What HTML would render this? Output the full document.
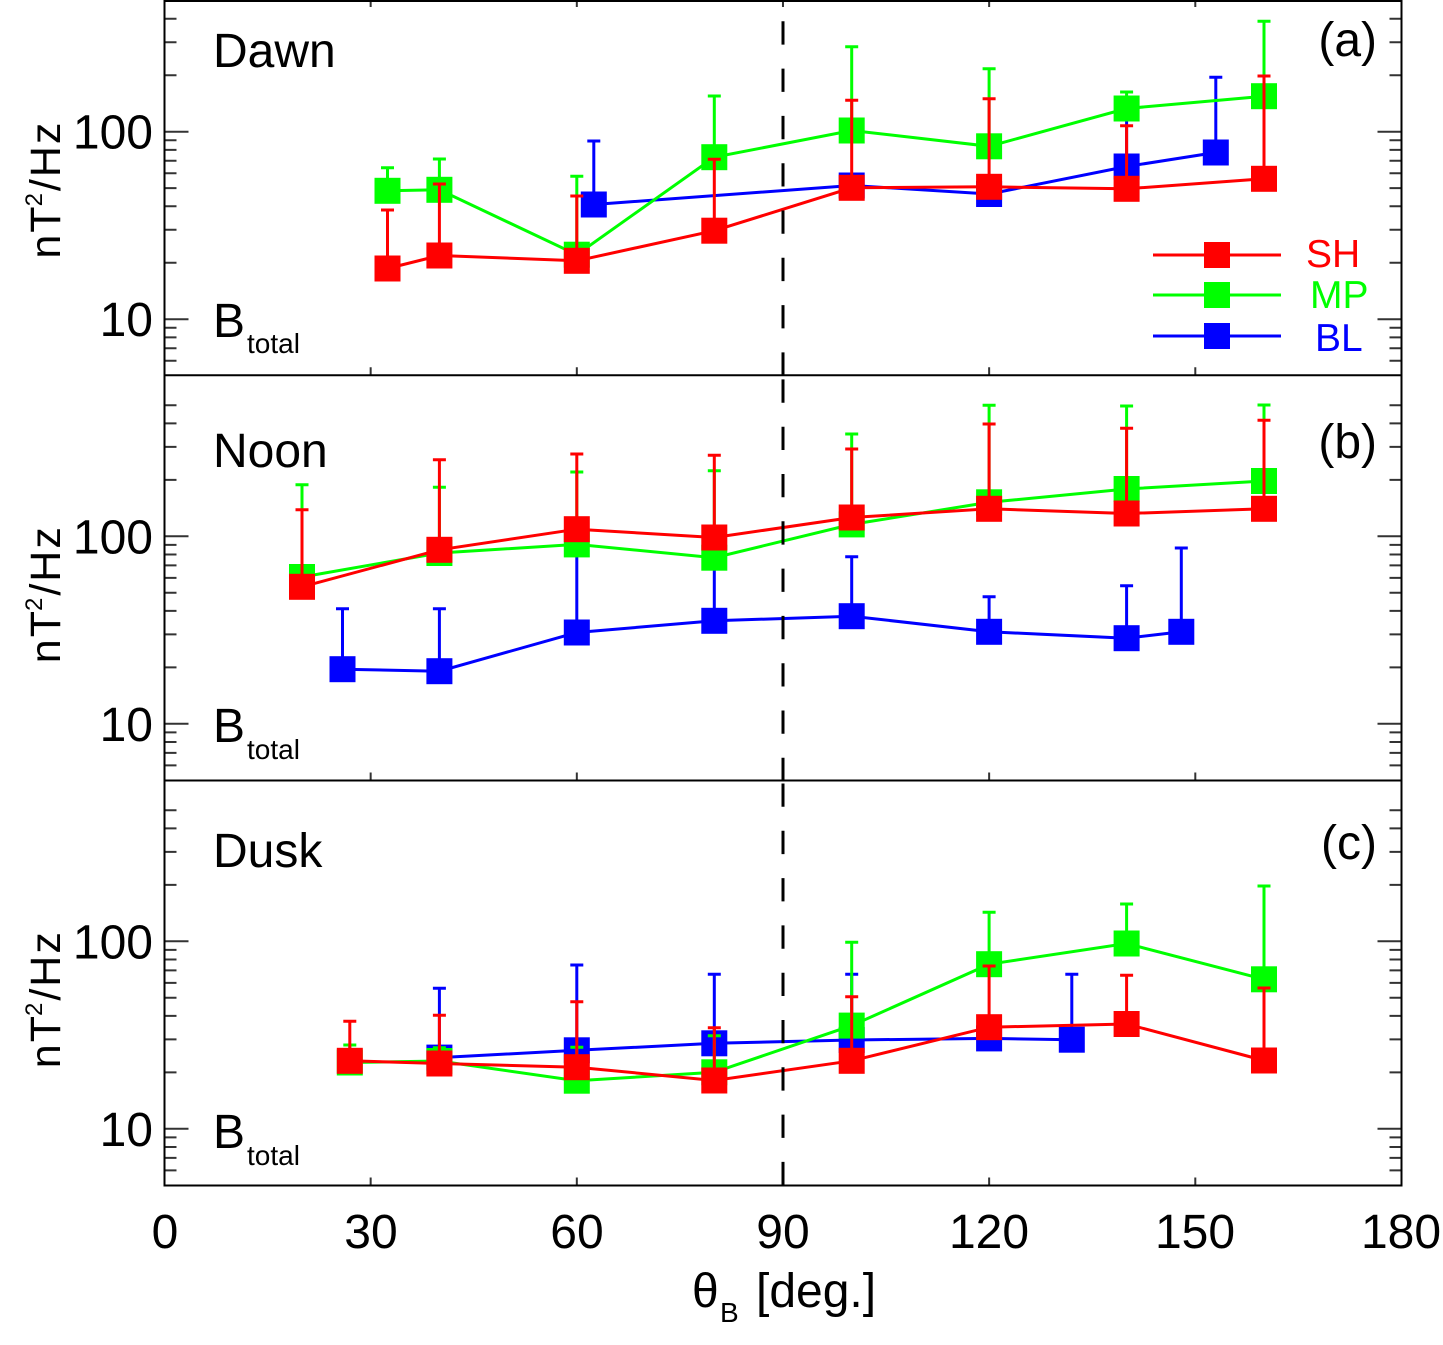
<!DOCTYPE html>
<html><head><meta charset="utf-8"><style>
html,body{margin:0;padding:0;background:#fff;}
svg{display:block;}
text{font-family:"Liberation Sans","DejaVu Sans",sans-serif;}
</style></head><body>
<svg xmlns="http://www.w3.org/2000/svg" width="1443" height="1345" viewBox="0 0 1443 1345">
<rect width="1443" height="1345" fill="#fff"/>

<!-- ticks -->
<g stroke="#333" stroke-width="2" fill="none">
<path d="M164.5 131.7h24M164.5 319.2h24M1401.5 131.7h-24M1401.5 319.2h-24"/>
<path d="M164.5 75.26h12M164.5 42.24h12M164.5 18.81h12M164.5 262.76h12M164.5 229.74h12M164.5 206.31h12M164.5 188.14h12M164.5 173.3h12M164.5 160.74h12M164.5 149.87h12M164.5 140.28h12M164.5 327.78h12M164.5 337.37h12M164.5 348.24h12M164.5 360.8h12"/>
<path d="M1401.5 75.26h-12M1401.5 42.24h-12M1401.5 18.81h-12M1401.5 262.76h-12M1401.5 229.74h-12M1401.5 206.31h-12M1401.5 188.14h-12M1401.5 173.3h-12M1401.5 160.74h-12M1401.5 149.87h-12M1401.5 140.28h-12M1401.5 327.78h-12M1401.5 337.37h-12M1401.5 348.24h-12M1401.5 360.8h-12"/>
<path d="M164.5 536.3h24M164.5 723.8h24M1401.5 536.3h-24M1401.5 723.8h-24"/>
<path d="M164.5 479.86h12M164.5 446.84h12M164.5 423.41h12M164.5 405.24h12M164.5 667.36h12M164.5 634.34h12M164.5 610.91h12M164.5 592.74h12M164.5 577.9h12M164.5 565.34h12M164.5 554.47h12M164.5 544.88h12M164.5 732.38h12M164.5 741.97h12M164.5 752.84h12M164.5 765.4h12"/>
<path d="M1401.5 479.86h-12M1401.5 446.84h-12M1401.5 423.41h-12M1401.5 405.24h-12M1401.5 667.36h-12M1401.5 634.34h-12M1401.5 610.91h-12M1401.5 592.74h-12M1401.5 577.9h-12M1401.5 565.34h-12M1401.5 554.47h-12M1401.5 544.88h-12M1401.5 732.38h-12M1401.5 741.97h-12M1401.5 752.84h-12M1401.5 765.4h-12"/>
<path d="M164.5 941.3h24M164.5 1128.8h24M1401.5 941.3h-24M1401.5 1128.8h-24"/>
<path d="M164.5 884.86h12M164.5 851.84h12M164.5 828.41h12M164.5 810.24h12M164.5 1072.36h12M164.5 1039.34h12M164.5 1015.91h12M164.5 997.74h12M164.5 982.9h12M164.5 970.34h12M164.5 959.47h12M164.5 949.88h12M164.5 1137.38h12M164.5 1146.97h12M164.5 1157.84h12M164.5 1170.4h12"/>
<path d="M1401.5 884.86h-12M1401.5 851.84h-12M1401.5 828.41h-12M1401.5 810.24h-12M1401.5 1072.36h-12M1401.5 1039.34h-12M1401.5 1015.91h-12M1401.5 997.74h-12M1401.5 982.9h-12M1401.5 970.34h-12M1401.5 959.47h-12M1401.5 949.88h-12M1401.5 1137.38h-12M1401.5 1146.97h-12M1401.5 1157.84h-12M1401.5 1170.4h-12"/>
<path d="M370.66 0v7M576.82 0v7M782.98 0v7M989.14 0v7M1195.3 0v7"/>
<path d="M370.66 375.3v-8M576.82 375.3v-8M782.98 375.3v-8M989.14 375.3v-8M1195.3 375.3v-8"/>
<path d="M370.66 780.5v-8M576.82 780.5v-8M782.98 780.5v-8M989.14 780.5v-8M1195.3 780.5v-8"/>
<path d="M370.66 1185.5v-8M576.82 1185.5v-8M782.98 1185.5v-8M989.14 1185.5v-8M1195.3 1185.5v-8"/>
</g>

<!-- frames -->
<g stroke="#000" stroke-width="2" fill="none">
<path d="M164.5 0V1186.5M1401.5 0V1186.5M164.5 1H1401.5M164.5 375.3H1401.5M164.5 780.5H1401.5M164.5 1185.5H1401.5"/>
</g>

<!-- ======== PANEL A ======== -->
<g stroke="#0000ff" fill="#0000ff" stroke-width="3">
<polyline fill="none" points="593.8,204.5 851.7,185.5 989.1,194 1126.6,166.5 1215.8,152.5"/>
<path fill="none" d="M593.8 204.5V141M587.3 141h13M1126.6 166.5V115M1120.1 115h13M1215.8 152.5V77.3M1209.3 77.3h13"/>
<g stroke="none">
<rect x="580.8" y="191.5" width="26" height="26"/><rect x="838.7" y="172.5" width="26" height="26"/><rect x="976.1" y="181" width="26" height="26"/><rect x="1113.6" y="153.5" width="26" height="26"/><rect x="1202.8" y="139.5" width="26" height="26"/>
</g></g>
<g stroke="#00ff00" fill="#00ff00" stroke-width="3">
<polyline fill="none" points="387.5,190.8 439.4,189.8 576.8,254.7 714.3,157.2 851.7,130.5 989.1,146.3 1126.6,108.5 1264,96.2"/>
<path fill="none" d="M387.5 190.8V167.7M381 167.7h13M439.4 189.8V159M432.9 159h13M576.8 254.7V176.3M570.3 176.3h13M714.3 157.2V96M707.8 96h13M851.7 130.5V46.7M845.2 46.7h13M989.1 146.3V68.7M982.6 68.7h13M1126.6 108.5V92M1120.1 92h13M1264 96.2V21.3M1257.5 21.3h13"/>
<g stroke="none">
<rect x="374.5" y="177.8" width="26" height="26"/><rect x="426.4" y="176.8" width="26" height="26"/><rect x="563.8" y="241.7" width="26" height="26"/><rect x="701.3" y="144.2" width="26" height="26"/><rect x="838.7" y="117.5" width="26" height="26"/><rect x="976.1" y="133.3" width="26" height="26"/><rect x="1113.6" y="95.5" width="26" height="26"/><rect x="1251" y="83.2" width="26" height="26"/>
</g></g>
<g stroke="#ff0000" fill="#ff0000" stroke-width="3">
<polyline fill="none" points="387.5,268.5 439.4,255.5 576.8,260.8 714.3,230.7 851.7,187.8 989.1,186.8 1126.6,188.8 1264,178.8"/>
<path fill="none" d="M387.5 268.5V210M381 210h13M439.4 255.5V184M432.9 184h13M576.8 260.8V196M570.3 196h13M714.3 230.7V159.3M707.8 159.3h13M851.7 187.8V100.3M845.2 100.3h13M989.1 186.8V98.7M982.6 98.7h13M1126.6 188.8V125.7M1120.1 125.7h13M1264 178.8V76M1257.5 76h13"/>
<g stroke="none">
<rect x="374.5" y="255.5" width="26" height="26"/><rect x="426.4" y="242.5" width="26" height="26"/><rect x="563.8" y="247.8" width="26" height="26"/><rect x="701.3" y="217.7" width="26" height="26"/><rect x="838.7" y="174.8" width="26" height="26"/><rect x="976.1" y="173.8" width="26" height="26"/><rect x="1113.6" y="175.8" width="26" height="26"/><rect x="1251" y="165.8" width="26" height="26"/>
</g></g>

<!-- ======== PANEL B ======== -->
<g stroke="#0000ff" fill="#0000ff" stroke-width="3">
<polyline fill="none" points="342.5,669.2 439.4,671.2 576.8,632.5 714.3,620.8 851.7,616.2 989.1,631.8 1126.6,638.2 1181.3,631.8"/>
<path fill="none" d="M342.5 669.2V608.7M336 608.7h13M439.4 671.2V608.7M432.9 608.7h13M576.8 632.5V545M714.3 620.8V562M851.7 616.2V556.7M845.2 556.7h13M989.1 631.8V596.7M982.6 596.7h13M1126.6 638.2V585.7M1120.1 585.7h13M1181.3 631.8V548M1174.8 548h13"/>
<g stroke="none">
<rect x="329.5" y="656.2" width="26" height="26"/><rect x="426.4" y="658.2" width="26" height="26"/><rect x="563.8" y="619.5" width="26" height="26"/><rect x="701.3" y="607.8" width="26" height="26"/><rect x="838.7" y="603.2" width="26" height="26"/><rect x="976.1" y="618.8" width="26" height="26"/><rect x="1113.6" y="625.2" width="26" height="26"/><rect x="1168.3" y="618.8" width="26" height="26"/>
</g></g>
<g stroke="#00ff00" fill="#00ff00" stroke-width="3">
<polyline fill="none" points="302,577 439.4,553 576.8,544.4 714.3,557.7 851.7,524.4 989.1,502.3 1126.6,489 1264,481"/>
<path fill="none" d="M302 577V484.7M295.5 484.7h13M439.4 553V487.3M432.9 487.3h13M576.8 544.4V472M570.3 472h13M714.3 557.7V470.7M707.8 470.7h13M851.7 524.4V434M845.2 434h13M989.1 502.3V405.3M982.6 405.3h13M1126.6 489V406M1120.1 406h13M1264 481V405M1257.5 405h13"/>
<g stroke="none">
<rect x="289" y="564" width="26" height="26"/><rect x="426.4" y="540" width="26" height="26"/><rect x="563.8" y="531.4" width="26" height="26"/><rect x="701.3" y="544.7" width="26" height="26"/><rect x="838.7" y="511.4" width="26" height="26"/><rect x="976.1" y="489.3" width="26" height="26"/><rect x="1113.6" y="476" width="26" height="26"/><rect x="1251" y="468" width="26" height="26"/>
</g></g>
<g stroke="#ff0000" fill="#ff0000" stroke-width="3">
<polyline fill="none" points="302,586.8 439.4,549.8 576.8,529.2 714.3,537.5 851.7,517.5 989.1,508.8 1126.6,513.5 1264,508.8"/>
<path fill="none" d="M302 586.8V509.7M295.5 509.7h13M439.4 549.8V459.7M432.9 459.7h13M576.8 529.2V454M570.3 454h13M714.3 537.5V455.3M707.8 455.3h13M851.7 517.5V449M845.2 449h13M989.1 508.8V424M982.6 424h13M1126.6 513.5V428.3M1120.1 428.3h13M1264 508.8V420.3M1257.5 420.3h13"/>
<g stroke="none">
<rect x="289" y="573.8" width="26" height="26"/><rect x="426.4" y="536.8" width="26" height="26"/><rect x="563.8" y="516.2" width="26" height="26"/><rect x="701.3" y="524.5" width="26" height="26"/><rect x="838.7" y="504.5" width="26" height="26"/><rect x="976.1" y="495.8" width="26" height="26"/><rect x="1113.6" y="500.5" width="26" height="26"/><rect x="1251" y="495.8" width="26" height="26"/>
</g></g>

<!-- ======== PANEL C ======== -->
<g stroke="#0000ff" fill="#0000ff" stroke-width="3">
<polyline fill="none" points="439.4,1057.6 576.8,1050.3 714.3,1043.3 851.7,1040 989.1,1038.4 1071.8,1039.7"/>
<path fill="none" d="M439.4 1057.6V988.3M432.9 988.3h13M576.8 1050.3V965M570.3 965h13M714.3 1043.3V974.3M707.8 974.3h13M851.7 1040V974.3M845.2 974.3h13M1071.8 1039.7V974.3M1065.3 974.3h13"/>
<g stroke="none">
<rect x="426.4" y="1044.6" width="26" height="26"/><rect x="563.8" y="1037.3" width="26" height="26"/><rect x="701.3" y="1030.3" width="26" height="26"/><rect x="838.7" y="1027" width="26" height="26"/><rect x="976.1" y="1025.4" width="26" height="26"/><rect x="1058.8" y="1026.7" width="26" height="26"/>
</g></g>
<g stroke="#00ff00" fill="#00ff00" stroke-width="3">
<polyline fill="none" points="349.8,1062.5 439.4,1061 576.8,1080.7 714.3,1072.3 851.7,1025.6 989.1,964.2 1126.6,943.5 1264,979.3"/>
<path fill="none" d="M349.8 1062.5V1045M343.3 1045h13M439.4 1061V1047.7M432.9 1047.7h13M576.8 1080.7V1047.3M570.3 1047.3h13M714.3 1072.3V1035.7M707.8 1035.7h13M851.7 1025.6V942.3M845.2 942.3h13M989.1 964.2V912.3M982.6 912.3h13M1126.6 943.5V904M1120.1 904h13M1264 979.3V886M1257.5 886h13"/>
<g stroke="none">
<rect x="336.8" y="1049.5" width="26" height="26"/><rect x="426.4" y="1048" width="26" height="26"/><rect x="563.8" y="1067.7" width="26" height="26"/><rect x="701.3" y="1059.3" width="26" height="26"/><rect x="838.7" y="1012.6" width="26" height="26"/><rect x="976.1" y="951.2" width="26" height="26"/><rect x="1113.6" y="930.5" width="26" height="26"/><rect x="1251" y="966.3" width="26" height="26"/>
</g></g>
<g stroke="#ff0000" fill="#ff0000" stroke-width="3">
<polyline fill="none" points="349.8,1060.8 439.4,1063.5 576.8,1067.2 714.3,1080.5 851.7,1060.8 989.1,1027.2 1126.6,1024 1264,1060.5"/>
<path fill="none" d="M349.8 1060.8V1021.3M343.3 1021.3h13M439.4 1063.5V1015.3M432.9 1015.3h13M576.8 1067.2V1001.7M570.3 1001.7h13M714.3 1080.5V1027.7M707.8 1027.7h13M851.7 1060.8V996.7M845.2 996.7h13M989.1 1027.2V966M982.6 966h13M1126.6 1024V975.3M1120.1 975.3h13M1264 1060.5V988M1257.5 988h13"/>
<g stroke="none">
<rect x="336.8" y="1047.8" width="26" height="26"/><rect x="426.4" y="1050.5" width="26" height="26"/><rect x="563.8" y="1054.2" width="26" height="26"/><rect x="701.3" y="1067.5" width="26" height="26"/><rect x="838.7" y="1047.8" width="26" height="26"/><rect x="976.1" y="1014.2" width="26" height="26"/><rect x="1113.6" y="1011" width="26" height="26"/><rect x="1251" y="1047.5" width="26" height="26"/>
</g></g>

<!-- dashed 90 deg line -->
<g stroke="#000" stroke-width="3" stroke-dasharray="23.3 24">
<line x1="783" y1="-26" x2="783" y2="375"/>
<line x1="783" y1="379.4" x2="783" y2="780"/>
<line x1="783" y1="783.5" x2="783" y2="1185.5"/>
</g>

<!-- legend -->
<g stroke-width="3">
<line x1="1153" y1="255" x2="1281" y2="255" stroke="#ff0000"/>
<rect x="1204" y="242" width="26" height="26" fill="#ff0000"/>
<line x1="1153" y1="295" x2="1281" y2="295" stroke="#00ff00"/>
<rect x="1204" y="282" width="26" height="26" fill="#00ff00"/>
<line x1="1153" y1="336" x2="1281" y2="336" stroke="#0000ff"/>
<rect x="1204" y="323" width="26" height="26" fill="#0000ff"/>
</g>
<text x="1306" y="267" font-size="39" fill="#ff0000">SH</text>
<text x="1310" y="308" font-size="39" fill="#00ff00">MP</text>
<text x="1315" y="351" font-size="39" fill="#0000ff">BL</text>

<!-- panel texts -->
<g font-size="48" fill="#000">
<text x="213" y="67">Dawn</text>
<text x="213" y="467">Noon</text>
<text x="213" y="867">Dusk</text>
<text x="1377" y="56" text-anchor="end">(a)</text>
<text x="1377" y="458" text-anchor="end">(b)</text>
<text x="1377" y="859" text-anchor="end">(c)</text>
<text x="213" y="337">B<tspan font-size="28" x="247" y="353">total</tspan></text>
<text x="213" y="742">B<tspan font-size="28" x="247" y="759">total</tspan></text>
<text x="213" y="1148">B<tspan font-size="28" x="247" y="1165">total</tspan></text>
<g text-anchor="end">
<text x="153" y="148.7">100</text><text x="153" y="336.2">10</text>
<text x="153" y="553.3">100</text><text x="153" y="740.8">10</text>
<text x="153" y="958.3">100</text><text x="153" y="1145.8">10</text>
</g>
<g text-anchor="middle">
<text x="165" y="1248">0</text>
<text x="371" y="1248">30</text>
<text x="577" y="1248">60</text>
<text x="783" y="1248">90</text>
<text x="989" y="1248">120</text>
<text x="1195" y="1248">150</text>
<text x="1401" y="1248">180</text>
</g>
<text x="692" y="1307">θ</text>
<text x="720" y="1322" font-size="28">B</text>
<text x="756" y="1307">[deg.]</text>
</g>

<!-- y axis labels -->
<g font-size="43" fill="#000">
<text transform="translate(60,189.6) rotate(-90)" text-anchor="middle"><tspan letter-spacing="2">n</tspan>T<tspan font-size="24" dy="-18" letter-spacing="2">2</tspan><tspan dy="18" letter-spacing="2">/Hz</tspan></text>
<text transform="translate(60,594.2) rotate(-90)" text-anchor="middle"><tspan letter-spacing="2">n</tspan>T<tspan font-size="24" dy="-18" letter-spacing="2">2</tspan><tspan dy="18" letter-spacing="2">/Hz</tspan></text>
<text transform="translate(60,999.2) rotate(-90)" text-anchor="middle"><tspan letter-spacing="2">n</tspan>T<tspan font-size="24" dy="-18" letter-spacing="2">2</tspan><tspan dy="18" letter-spacing="2">/Hz</tspan></text>
</g>
</svg>
</body></html>
